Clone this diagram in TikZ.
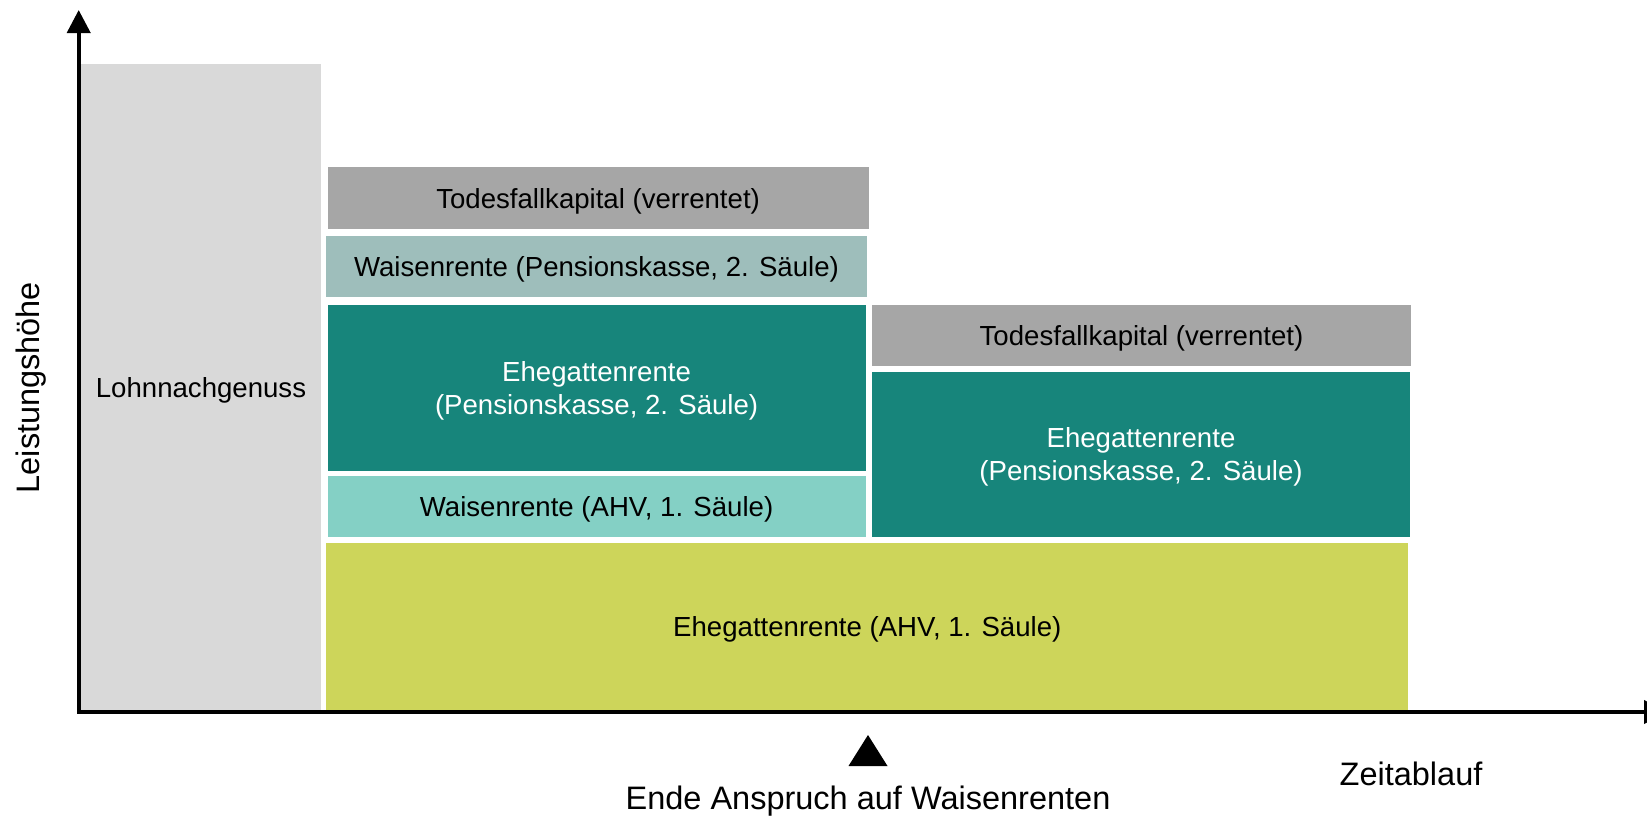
\documentclass[tikz,border=0pt]{standalone}
\usepackage{fontspec}
\setmainfont{Liberation Sans}
\usetikzlibrary{arrows.meta}
\definecolor{lohn}{HTML}{D9D9D9}
\definecolor{todes}{HTML}{A6A6A6}
\definecolor{waisenpk}{HTML}{9EBEBB}
\definecolor{ehepk}{HTML}{17857B}
\definecolor{waisenahv}{HTML}{84D0C5}
\definecolor{eheahv}{HTML}{CDD55A}
\tikzset{
  blk/.style={anchor=north west, inner sep=0pt, outer sep=0pt, align=center,
    font=\fontsize{27.6pt}{33pt}\selectfont, text=black, text depth=0pt},
  lbl/.style={inner sep=0pt, font=\fontsize{32.5pt}{38pt}\selectfont, text=black},
  axisline/.style={line width=4pt, draw=black,
    {Triangle[length=23pt,width=23pt]}-{Triangle[length=23pt,width=23pt]}}
}
\begin{document}
\begin{tikzpicture}[x=1pt,y=-1pt]
\useasboundingbox (0,0) rectangle (1647,817);
\clip (0,0) rectangle (1647,817);
\fill[white] (0,0) rectangle (1647,817);
% blocks
\node[blk, fill=lohn, minimum width=240pt, minimum height=646pt] (lohn) at (81,64) {Lohnnachgenuss};
\node[blk, fill=todes, minimum width=541pt, minimum height=61.4pt] (todes1) at (327.6,167.3) {Todesfallkapital (verrentet)};
\node[blk, fill=waisenpk, minimum width=541pt, minimum height=61.3pt] (waisenpk) at (326,236) {Waisenrente (Pensionskasse, 2. Säule)};
\node[blk, fill=ehepk, text=white, minimum width=538pt, minimum height=165.7pt] (ehepk1) at (327.6,305) {Ehegattenrente\\(Pensionskasse, 2. Säule)};
\node[blk, fill=waisenahv, minimum width=538pt, minimum height=60.7pt] (waisenahv) at (327.6,476) {Waisenrente (AHV, 1. Säule)};
\node[blk, fill=eheahv, minimum width=1082pt, minimum height=167.5pt, text depth=-5pt] (eheahv) at (326.3,542.5) {Ehegattenrente (AHV, 1. Säule)};
\node[blk, fill=todes, minimum width=539pt, minimum height=61pt] (todes2) at (872,305) {Todesfallkapital (verrentet)};
\node[blk, fill=ehepk, text=white, minimum width=538pt, minimum height=165pt] (ehepk2) at (872,371.7) {Ehegattenrente\\(Pensionskasse, 2. Säule)};
% axes
\coordinate (ytip) at (78.7,10);
\coordinate (orig) at (78.7,712);
\coordinate (xtip) at (1667,712);
\draw[axisline] (ytip) -- (orig) -- (xtip);
% axis labels
\node[lbl, rotate=90] (yl) at (31.5,387.6) {Leistungshöhe};
\node[lbl] (xl) at (1411,774) {Zeitablauf};
% marker
\coordinate (mtop) at (868,735);
\coordinate (mleft) at (848.5,766);
\coordinate (mright) at (887.5,766);
\fill[black] (mtop) -- (mleft) -- (mright) -- cycle;
\node[lbl, text depth=0pt] (ende) at (868,798) {Ende Anspruch auf Waisenrenten};
\end{tikzpicture}
\end{document}
